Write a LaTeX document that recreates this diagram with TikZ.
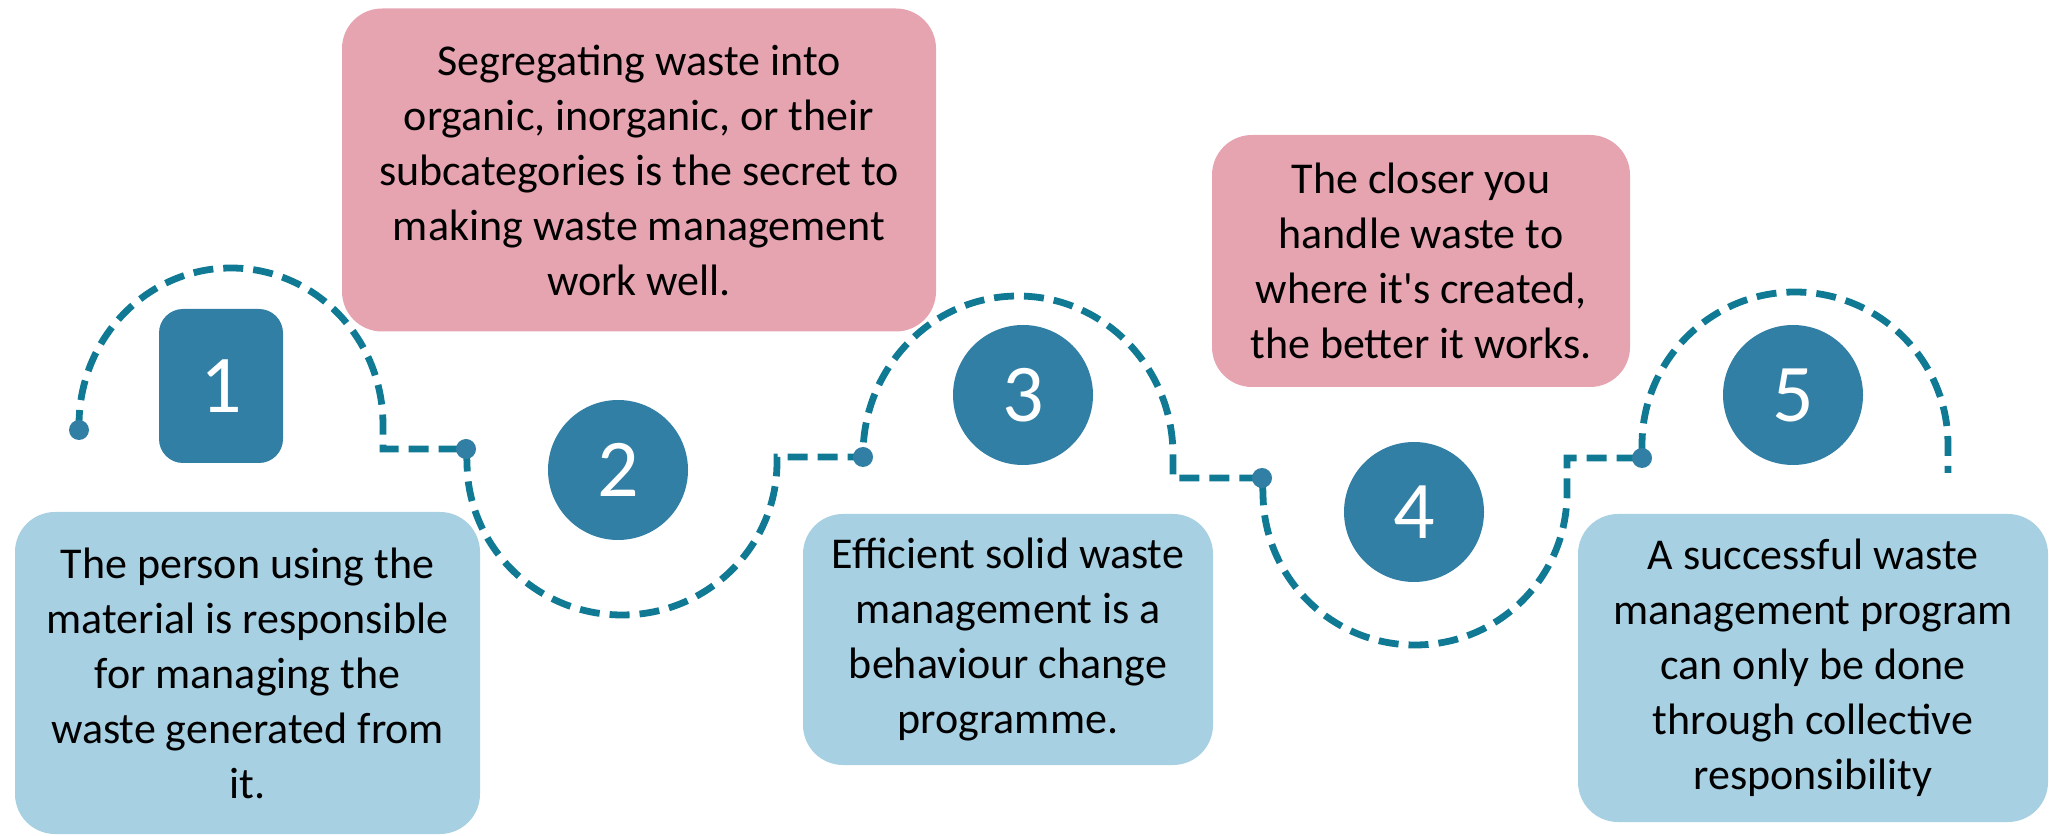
\documentclass[tikz,border=0pt]{standalone}
\usepackage{fontspec}
\setmainfont{Carlito}

\definecolor{boxblue}{RGB}{168,208,227}
\definecolor{boxpink}{RGB}{230,164,177}
\definecolor{numteal}{RGB}{49,127,164}
\definecolor{trailteal}{RGB}{16,122,148}

\begin{document}
\begin{tikzpicture}[x=0.5pt,y=0.5pt,
    textbox/.style={rounded corners=20pt,align=center,inner sep=0pt,
        font=\fontsize{22}{27.5}\selectfont},
    bluebox/.style={textbox,fill=boxblue},
    pinkbox/.style={textbox,fill=boxpink},
    numdisc/.style={circle,fill=numteal,text=white,minimum size=70pt,
        inner sep=0pt,font=\fontsize{41}{41}\selectfont},
    numsquare/.style={numdisc,rectangle,rounded corners=12pt,
        minimum width=62pt,minimum height=77pt},
    dotmark/.style={circle,fill=numteal,minimum size=10pt,inner sep=0pt},
    trail/.style={trailteal,line width=3.4pt,dash pattern=on 10pt off 5pt}]

    % Page frame
    \useasboundingbox (0,0) rectangle (2049,835);

    % Text boxes
    \node[bluebox,minimum width=232.5pt,minimum height=161pt] (txt1) at (247.5,162)
        {The person using the\\material is responsible\\for managing the\\waste generated from\\it.};
    \node[pinkbox,minimum width=297pt,minimum height=161.5pt] (txt2) at (639,665)
        {Segregating waste into\\organic, inorganic, or their\\subcategories is the secret to\\making waste management\\work well.};
    \node[bluebox,minimum width=205pt,minimum height=125.5pt] (txt3) at (1008,195.5)
        {Efficient solid waste\\management is a\\behaviour change\\programme.};
    \node[pinkbox,minimum width=209pt,minimum height=126pt] (txt4) at (1421,574)
        {The closer you\\handle waste to\\where it\textquotesingle s created,\\the better it works.};
    \node[bluebox,minimum width=235pt,minimum height=154pt] (txt5) at (1813,167)
        {A successful waste\\management program\\can only be done\\through collective\\responsibility};

    % Step numbers
    \node[numsquare] (num1) at (221,449) {1};
    \node[numdisc] (num2) at (618,365) {2};
    \node[numdisc] (num3) at (1023,440) {3};
    \node[numdisc] (num4) at (1414,323) {4};
    \node[numdisc] (num5) at (1793,440) {5};

    % Joints of the dashed trail
    \coordinate (d1) at (79,405);
    \coordinate (d2) at (466,386);
    \coordinate (d3) at (863,378);
    \coordinate (d4) at (1262,357);
    \coordinate (d5) at (1642,377);
    \coordinate (tail) at (1948,362);

    % Dashed trail, up and down
    \draw[trail] (d1) -- (79,410) arc[start angle=180,end angle=0,x radius=152,y radius=157] |- (d2)
        -- (467,373) arc[start angle=180,end angle=360,x radius=155,y radius=153] |- (d3)
        -- (863,380) arc[start angle=180,end angle=0,x radius=155,y radius=159] |- (d4)
        -- (1263,342) arc[start angle=180,end angle=360,x radius=152,y radius=152] |- (d5)
        -- (1642,390) arc[start angle=180,end angle=0,x radius=153,y radius=153] -- (tail);

    % Dots on the joints
    \foreach \d in {d1,d2,d3,d4,d5}
        \node[dotmark] (\d dot) at (\d) {};

\end{tikzpicture}
\end{document}
